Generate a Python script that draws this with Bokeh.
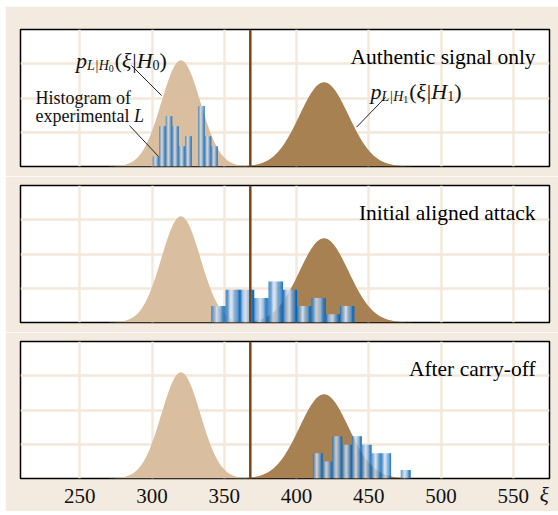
import numpy as np
from bokeh.plotting import figure
from bokeh.models import Range1d, Label, Span, Grid, FixedTicker, LinearAxis, Spacer
from bokeh.layouts import column, row
from bokeh.embed import file_html
from bokeh.resources import INLINE

# ---------------- data ----------------
x_ticks = [250, 300, 350, 400, 450, 500, 550]
threshold = 368

h0_mean, h0_sd, h0_peak = 320.0, 13.5, 0.775
h1_mean, h1_sd, h1_peak = 419.0, 17.0, 0.615

panel_titles = ["Authentic signal only", "Initial aligned attack", "After carry-off"]

top_edges = [300.5, 305.0, 309.5, 314.0, 318.5, 323.0, 327.5, 332.0, 336.5, 341.0, 345.5]
top_counts = [1, 4, 5, 4, 2, 3, 0, 6, 3, 2]

mid_edges = [341.0, 350.9, 360.8, 370.7, 380.6, 390.5, 400.4, 410.3, 420.2, 430.1, 440.0]
mid_counts = [2, 4, 4, 3, 5, 4, 2, 3, 1, 2]

bot_edges = [411.3, 418.1, 424.8, 431.6, 438.3, 445.1, 451.9, 458.6, 465.4, 472.1, 478.9]
bot_counts = [3, 2, 5, 4, 5, 4, 3, 3, 0, 1]

hist_count_max = [13.6, 16.7, 16.2]

# ---------------- styles ----------------
SERIF = "Liberation Serif"
BEIGE = "#f3ebdf"
GRID = "#f3e8d9"
LIGHT = "#d9bf9f"
DARK = "#a88153"
BROWN = "#74461a"
BLUE = np.array([8, 102, 184])
HIGHLIGHT = np.array([220, 225, 236])

X0, X1 = 209, 575


def shade(t):
    if t < 0.4:
        h = 1 - (0.4 - t) / 0.4
    else:
        h = 1 - (t - 0.4) / 0.5
    h = max(0.0, h) ** 0.8
    c = BLUE + (HIGHLIGHT - BLUE) * h
    return "#%02x%02x%02x" % tuple(int(round(v)) for v in c)


def gauss(xs, m, s, peak):
    return peak * np.exp(-0.5 * ((xs - m) / s) ** 2)


def make_panel(i, edges, counts, height, top_b, bot_b, axis=False):
    p = figure(width=553, height=height, x_range=Range1d(X0, X1), y_range=Range1d(0, 1),
               x_axis_type=None, y_axis_type=None, title=None, toolbar_location=None,
               output_backend="svg", min_border_left=15, min_border_right=9,
               min_border_top=top_b, min_border_bottom=bot_b)
    p.background_fill_color = "white"
    p.border_fill_color = BEIGE
    p.outline_line_color = "black"
    p.outline_line_width = 1.5
    p.add_layout(Grid(dimension=0, ticker=FixedTicker(ticks=x_ticks),
                      grid_line_color=GRID, grid_line_width=2.5))
    p.add_layout(Grid(dimension=1, ticker=FixedTicker(ticks=[0.25, 0.5, 0.75]),
                      grid_line_color=GRID, grid_line_width=2.5))
    p.extra_y_ranges = {"hist": Range1d(0, hist_count_max[i])}

    xs = np.linspace(X0, X1, 500)
    p.varea(x=xs, y1=0, y2=gauss(xs, h0_mean, h0_sd, h0_peak), fill_color=LIGHT)
    p.varea(x=xs, y1=0, y2=gauss(xs, h1_mean, h1_sd, h1_peak), fill_color=DARK)

    nstrip = 12
    L, R, T, C = [], [], [], []
    for k, c in enumerate(counts):
        if c == 0:
            continue
        a, b = edges[k], edges[k + 1]
        w = (b - a) / nstrip
        for j in range(nstrip):
            L.append(a + j * w)
            R.append(a + (j + 1) * w + 0.02)
            T.append(c)
            C.append(shade((j + 0.5) / nstrip))
    p.quad(left=L, right=R, bottom=0, top=T, fill_color=C, line_color=None, y_range_name="hist")

    p.add_layout(Span(location=threshold, dimension="height", line_color=BROWN, line_width=2.5))
    p.add_layout(Label(x=565.4, y=0.796, text=panel_titles[i], text_align="right",
                       text_baseline="alphabetic", text_font=SERIF, text_font_size="21.5px",
                       text_color="black"))
    if axis:
        ax = LinearAxis(ticker=FixedTicker(ticks=x_ticks))
        ax.axis_line_color = None
        ax.major_tick_line_color = None
        ax.minor_tick_line_color = None
        ax.major_tick_out = 0
        ax.major_tick_in = 0
        ax.major_label_standoff = 10
        ax.major_label_text_font = SERIF
        ax.major_label_text_font_size = "21px"
        ax.major_label_text_color = "#111111"
        ax.axis_label = "ξ\u00a0\u00a0"
        ax.axis_label_text_font = SERIF
        ax.axis_label_text_font_size = "21px"
        ax.axis_label_text_font_style = "italic"
        ax.axis_label_text_color = "#111111"
        ax.axis_label_standoff = -23
        if "axis_label_align" in ax.properties():
            ax.axis_label_align = "end"
        p.add_layout(ax, "below")
    return p


def math_label(p, x, y, pieces):
    dx = 0.0
    for text, size, style, dy, adv in pieces:
        p.add_layout(Label(x=x, y=y, x_offset=dx, y_offset=dy, text=text, text_font=SERIF,
                           text_font_size=f"{size}px", text_font_style=style,
                           text_baseline="alphabetic", text_align="left", text_color="#111111"))
        dx += adv


def density_pieces(idx):
    return [
        ("p", 22, "italic", 0, 11.0),
        ("L|H", 14, "italic", -5, 21.7),
        (idx, 10, "normal", -8, 6.0),
        ("(", 22, "normal", 0, 7.3),
        ("ξ", 22, "italic", 0, 10.3),
        ("|", 22, "normal", 0, 4.4),
        ("H", 22, "italic", 0, 15.9),
        (idx, 14, "normal", -5, 7.0),
        (")", 22, "normal", 0, 7.3),
    ]


p1 = make_panel(0, top_edges, top_counts, 170, 23, 10)
p2 = make_panel(1, mid_edges, mid_counts, 156, 9, 10)
p3 = make_panel(2, bot_edges, bot_counts, 179, 9, 33, axis=True)

# annotations of the first panel
math_label(p1, 247.4, 0.777, density_pieces("0"))
math_label(p1, 451.2, 0.551, density_pieces("1"))
p1.add_layout(Label(x=219.4, y=0.501, text="Histogram of", text_font=SERIF, text_font_size="18px",
                    text_baseline="alphabetic", text_color="#111111"))
p1.add_layout(Label(x=219.4, y=0.366, text="experimental", text_font=SERIF, text_font_size="18px",
                    text_baseline="alphabetic", text_color="#111111"))
p1.add_layout(Label(x=219.4, y=0.366, x_offset=98.5, text="L", text_font=SERIF,
                    text_font_size="18px", text_font_style="italic",
                    text_baseline="alphabetic", text_color="#111111"))
p1.segment(x0=[285.8, 284.4, 461.6], y0=[0.737, 0.299, 0.506],
           x1=[306.6, 304.5, 441.5], y1=[0.518, 0.073, 0.287],
           line_color="#222222", line_width=1)

layout = column(Spacer(height=6), row(Spacer(width=5), column(p1, p2, p3)))
open("out.html", "w").write(file_html(layout, INLINE))
